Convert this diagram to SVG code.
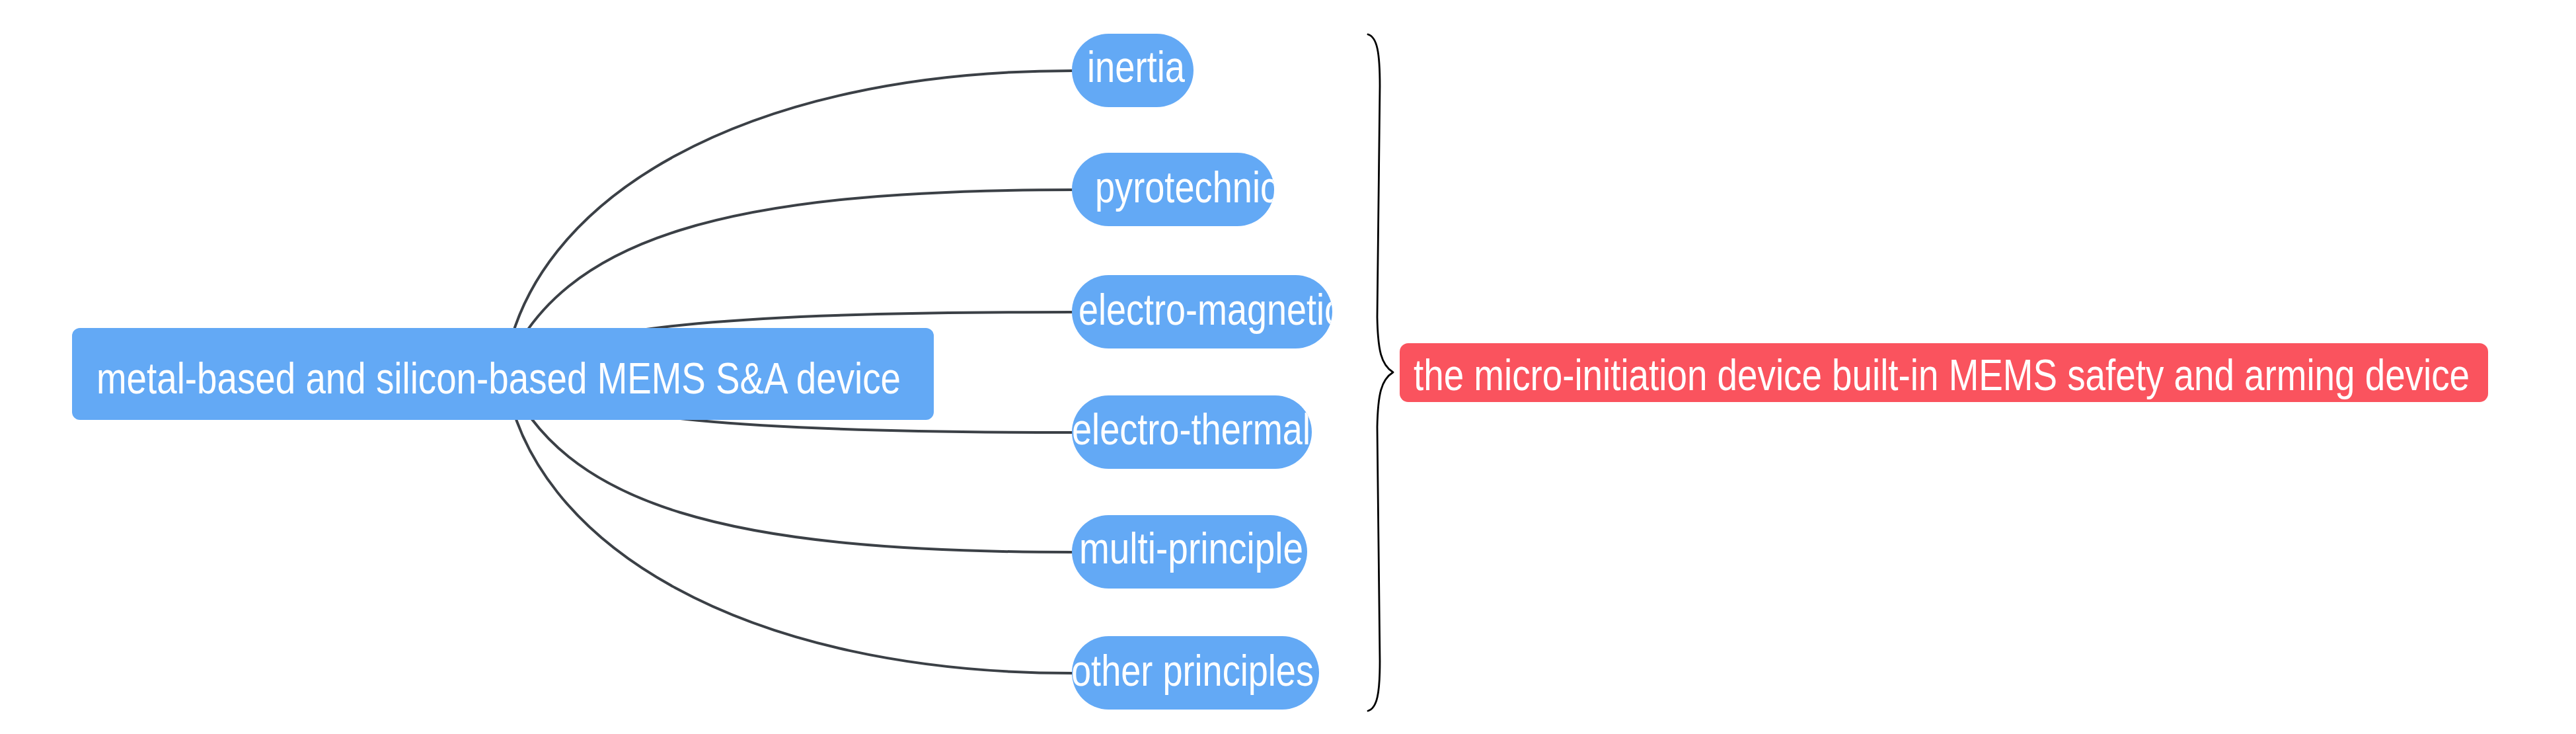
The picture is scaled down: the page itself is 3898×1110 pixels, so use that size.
<svg xmlns="http://www.w3.org/2000/svg" width="3898" height="1110" viewBox="0 0 3898 1110">
<style>
  .link { fill: none; stroke: #3b4046; stroke-width: 4; stroke-linecap: round; }
  .brace { fill: none; stroke: #000000; stroke-width: 2.8; stroke-linecap: round; stroke-linejoin: round; }
  .pill { fill: #63a9f5; }
  .root { fill: #63a9f5; }
  .summary { fill: #fa535e; }
  .lbl { fill: #ffffff; font-family: "Liberation Sans Narrow", "Liberation Sans", Arial, sans-serif; font-size: 66px; }
</style>
<defs>
  <clipPath id="c-inertia"><rect x="1622" y="51" width="184" height="111" rx="55.5"/></clipPath>
  <clipPath id="c-pyro"><rect x="1622" y="231" width="306" height="111" rx="55.5"/></clipPath>
  <clipPath id="c-em"><rect x="1622" y="416" width="394" height="111" rx="55.5"/></clipPath>
  <clipPath id="c-et"><rect x="1622" y="598" width="363" height="111" rx="55.5"/></clipPath>
  <clipPath id="c-multi"><rect x="1622" y="779" width="356" height="111" rx="55.5"/></clipPath>
  <clipPath id="c-other"><rect x="1622" y="962" width="374" height="111" rx="55.5"/></clipPath>
</defs>
<rect x="0" y="0" width="3898" height="1110" fill="#ffffff"/>
<g id="connectors">
  <path class="link" d="M763,562 C800,298 1130,107 1622,107"/>
  <path class="link" d="M763,562 C850,358 1100,287 1622,287"/>
  <path class="link" d="M763,562 C870,488 1150,472 1622,472"/>
  <path class="link" d="M763,562 C870,636 1150,654 1622,654"/>
  <path class="link" d="M763,562 C850,766 1100,835 1622,835"/>
  <path class="link" d="M763,562 C800,826 1130,1018 1622,1018"/>
  <path class="brace" d="M2070,52 C2084,56 2088,80 2088,130 L2084,480 C2085,530 2090,552 2108,563 C2090,574 2085,596 2084,646 L2088,1000 C2088,1048 2084,1071 2070,1075"/>
</g>
<g id="node-root">
  <rect class="root" x="109" y="496" width="1304" height="139" rx="12"/>
  <text class="lbl" x="146" y="595" textLength="1217" lengthAdjust="spacingAndGlyphs">metal-based and silicon-based MEMS S&amp;A device</text>
</g>
<g id="node-inertia">
  <rect class="pill" x="1622" y="51" width="184" height="111" rx="55.5"/>
  <text class="lbl" x="1645" y="124" textLength="148" lengthAdjust="spacingAndGlyphs" clip-path="url(#c-inertia)">inertia</text>
</g>
<g id="node-pyrotechnic">
  <rect class="pill" x="1622" y="231" width="306" height="111" rx="55.5"/>
  <text class="lbl" x="1657" y="306" textLength="277" lengthAdjust="spacingAndGlyphs" clip-path="url(#c-pyro)">pyrotechnic</text>
</g>
<g id="node-electro-magnetic">
  <rect class="pill" x="1622" y="416" width="394" height="111" rx="55.5"/>
  <text class="lbl" x="1632" y="491" textLength="399" lengthAdjust="spacingAndGlyphs" clip-path="url(#c-em)">electro-magnetic</text>
</g>
<g id="node-electro-thermal">
  <rect class="pill" x="1622" y="598" width="363" height="111" rx="55.5"/>
  <text class="lbl" x="1622" y="672" textLength="361" lengthAdjust="spacingAndGlyphs" clip-path="url(#c-et)">electro-thermal</text>
</g>
<g id="node-multi-principle">
  <rect class="pill" x="1622" y="779" width="356" height="111" rx="55.5"/>
  <text class="lbl" x="1633" y="852" textLength="339" lengthAdjust="spacingAndGlyphs" clip-path="url(#c-multi)">multi-principle</text>
</g>
<g id="node-other-principles">
  <rect class="pill" x="1622" y="962" width="374" height="111" rx="55.5"/>
  <text class="lbl" x="1621" y="1037" textLength="367" lengthAdjust="spacingAndGlyphs" clip-path="url(#c-other)">other principles</text>
</g>
<g id="node-summary">
  <rect class="summary" x="2118" y="519" width="1647" height="89" rx="13"/>
  <text class="lbl" x="2139" y="590" textLength="1598" lengthAdjust="spacingAndGlyphs">the micro-initiation device built-in MEMS safety and arming device</text>
</g>
</svg>
